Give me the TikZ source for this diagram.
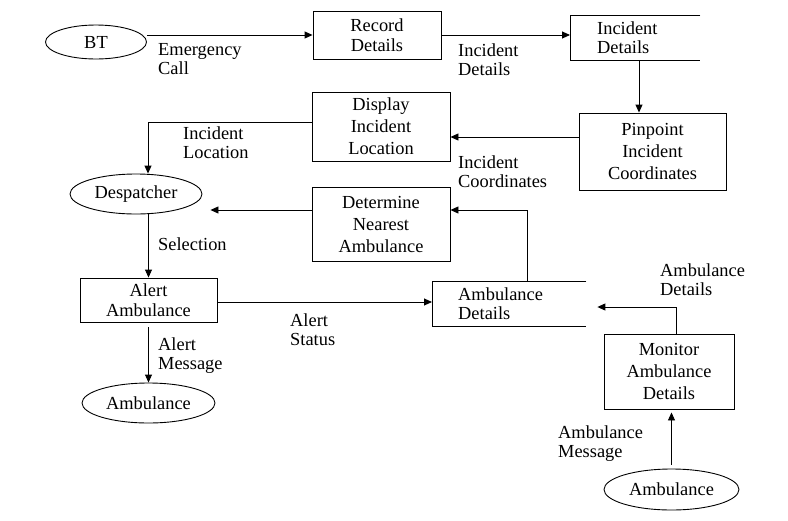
\documentclass[tikz,border=0pt]{standalone}
\usepackage{fontspec}
\setmainfont{Liberation Serif}
\usetikzlibrary{arrows.meta,shapes.geometric,calc}
\begin{document}
\begin{tikzpicture}[x=1pt,y=-1pt,
  every node/.style={font=\fontsize{18.4}{19}\selectfont, inner sep=0pt},
  proc/.style={draw, line width=0.9pt, rectangle, align=center},
  two/.style={font=\fontsize{18.4}{20}\selectfont},
  three/.style={font=\fontsize{18.4}{22}\selectfont},
  term/.style={draw, line width=0.9pt, ellipse},
  lbl/.style={align=left, anchor=west},
  store/.style={anchor=west, align=left, inner ysep=0pt, minimum height=44pt},
  sline/.style={line width=0.9pt},
  flow/.style={line width=0.9pt, -{Triangle[length=8pt,width=7pt]}}
]
\useasboundingbox (0,0) rectangle (788,520);

% terminators
\node[term, minimum width=101pt, minimum height=34pt] (bt) at (96,42) {BT};
\node[term, minimum width=132pt, minimum height=40pt] (desp) at (136,194) {Despatcher};
\node[term, minimum width=133pt, minimum height=40pt] (amb1) at (148.5,403) {Ambulance};
\node[term, minimum width=135pt, minimum height=41pt] (amb2) at (671.5,489.5) {Ambulance};

% processes
\node[proc, two, minimum width=128pt, minimum height=48pt] (rec) at (377,35) {Record\\Details};
\node[proc, three, minimum width=147pt, minimum height=77pt] (pin) at (652.5,151.5) {Pinpoint\\Incident\\Coordinates};
\node[proc, three, minimum width=138pt, minimum height=69pt] (disp) at (381,126.5) {Display\\Incident\\Location};
\node[proc, three, minimum width=138pt, minimum height=74pt] (det) at (381,224) {Determine\\Nearest\\Ambulance};
\node[proc, two, minimum width=137pt, minimum height=44pt] (alert) at (148.5,300) {Alert\\Ambulance};
\node[proc, three, minimum width=130pt, minimum height=75pt] (mon) at (669,371.5) {Monitor\\Ambulance\\Details};

% data stores
\node[store, inner xsep=27pt, text width=76pt] (ids) at (570,38) {Incident\\Details};
\draw[sline] (ids.north east) -- (ids.north west) -- (ids.south west) -- (ids.south east);
\node[store, inner xsep=26pt, text width=102pt] (ads) at (432,304) {Ambulance\\Details};
\draw[sline] (ads.north east) -- (ads.north west) -- (ads.south west) -- (ads.south east);

% flows
\draw[flow] (bt.east |- rec.west) -- (rec.west);
\draw[flow] (rec.east) -- (rec.east -| ids.west);
\draw[flow] ([xshift=-13.5pt]ids.south -| pin.north) -- ([xshift=-13.5pt]pin.north);
\draw[flow] ([yshift=14.5pt]pin.west) -- ([yshift=14.5pt]pin.west -| disp.east);
\draw[flow] ([yshift=4.5pt]disp.west) -| ([xshift=12pt]desp.north);
\draw[flow, shorten >=8pt] ([yshift=14pt]det.west) -- ([yshift=14pt]det.west -| desp.east);
\draw[flow] (desp.south -| alert.north) -- (alert.north);
\draw[flow] ([yshift=-2pt]alert.east) -- ([yshift=-2pt]alert.east -| ads.west);
\draw[flow, shorten <=5pt] (alert.south) -- (amb1.north);
\draw[flow] ([xshift=18pt]ads.north) |- ([yshift=14pt]det.east);
\draw[flow, shorten >=11pt] ([xshift=7pt]mon.north) |- ([yshift=-3pt]ads.east);
\draw[flow, shorten <=4pt, shorten >=3pt] (amb2.north) -- (amb2.north |- mon.south);

% flow labels
\node[lbl] (l1) at (158,59.5) {Emergency\\Call};
\node[lbl] (l2) at (458,60) {Incident\\Details};
\node[lbl] (l3) at (183,143) {Incident\\Location};
\node[lbl] (l4) at (458,172) {Incident\\Coordinates};
\node[lbl] (l5) at (158,244.5) {Selection};
\node[lbl] (l6) at (290,329.5) {Alert\\Status};
\node[lbl] (l7) at (158,355.5) {Alert\\Message};
\node[lbl] (l8) at (660,279.5) {Ambulance\\Details};
\node[lbl] (l9) at (558,443.5) {Ambulance\\Message};
\end{tikzpicture}
\end{document}
